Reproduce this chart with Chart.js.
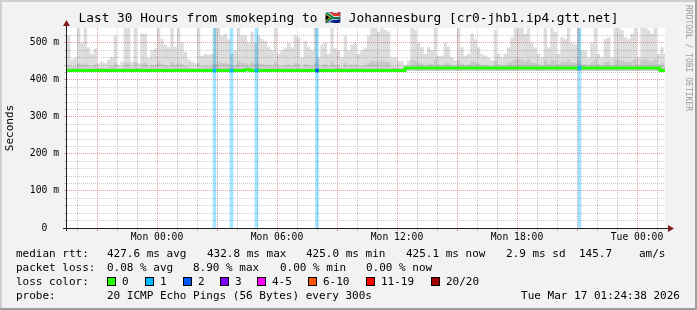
<!doctype html>
<html lang="en">
<head>
<meta charset="utf-8">
<title>Smokeping || Johannesburg</title>
<script src="https://cdn.jsdelivr.net/npm/chart.js"></script>
<style>
    html, body { margin: 0; padding: 0; background: #f2f2f2; }
    .wrap { position: relative; width: 697px; height: 310px; font-family: "DejaVu Sans Mono", monospace; color: #000; }
    canvas { position: absolute; left: 0; top: 0; }
    .title { position: absolute; left: 0; top: 10px; width: 697px; text-align: center; font-size: 12.8px; line-height: 16px; white-space: pre; }
    .t { position: absolute; font-size: 11px; line-height: 14px; white-space: pre; }
    .sw { position: absolute; width: 7px; height: 7px; border: 1px solid #000; }
    .credit { position: absolute; left: 683px; top: 5px; writing-mode: vertical-rl; font-size: 8px; line-height: 10px; color: #9a9a9a; white-space: pre; }
</style>
</head>
<body>
<div class="wrap">
    <canvas id="chart" width="697" height="310"></canvas>
    <div class="title">Last 30 Hours from smokeping to 🇿🇦 Johannesburg [cr0-jhb1.ip4.gtt.net]</div>
    <div class="credit">RRDTOOL / TOBI OETIKER</div>

    <!-- median rtt row -->
    <span class="t" style="left:16px; top:247px">median rtt:</span>
    <span class="t" style="left:107px; top:247px">427.6 ms avg</span>
    <span class="t" style="left:207px; top:247px">432.8 ms max</span>
    <span class="t" style="left:306px; top:247px">425.0 ms min</span>
    <span class="t" style="left:406px; top:247px">425.1 ms now</span>
    <span class="t" style="left:506px; top:247px">2.9 ms sd</span>
    <span class="t" style="left:579px; top:247px">145.7</span>
    <span class="t" style="left:639px; top:247px">am/s</span>

    <!-- packet loss row -->
    <span class="t" style="left:16px; top:261px">packet loss:</span>
    <span class="t" style="left:107px; top:261px">0.08 % avg</span>
    <span class="t" style="left:193px; top:261px">8.90 % max</span>
    <span class="t" style="left:280px; top:261px">0.00 % min</span>
    <span class="t" style="left:366px; top:261px">0.00 % now</span>

    <!-- loss color row, swatches added by script -->
    <span class="t" style="left:16px; top:275px">loss color:</span>
    <div id="lossRow"></div>

    <!-- probe row -->
    <span class="t" style="left:16px; top:289px">probe:</span>
    <span class="t" style="left:107px; top:289px">20 ICMP Echo Pings (56 Bytes) every 300s</span>
    <span class="t" style="right:17px; top:289px">Tue Mar 17 01:24:38 2026</span>
</div>

<script>
    // time axis in hours relative to Mon 00:00
    const startHour = -4.5;
    const endHour = 25.4;
    const stepHours = 1 / 6; // one smoke bar per 10 minutes

    // top of the smoke (highest ping), ms
    const smokeHigh = [
        520, 455, 460, 540, 500, 540, 488, 470, 485, 445, 450, 445, 455, 462, 520,
        440, 450, 540, 540, 450, 540, 445, 525, 525, 460, 480, 485, 540, 510, 495,
        488, 540, 490, 540, 500, 475, 455, 450, 445, 540, 465, 470, 468, 470, 540,
        540, 520, 525, 510, 470, 480, 540, 520, 520, 500, 530, 500, 520, 510, 505,
        490, 480, 540, 470, 480, 485, 500, 488, 520, 515, 461, 505, 490, 480, 540,
        461, 495, 500, 470, 540, 485, 480, 461, 520, 480, 495, 500, 470, 480, 485,
        520, 540, 540, 530, 540, 535, 530, 461, 461, 452, 450, 440, 452, 540, 535,
        500, 488, 470, 488, 480, 540, 465, 465, 500, 490, 461, 452, 540, 488, 465,
        470, 525, 510, 488, 470, 465, 461, 452, 535, 470, 461, 470, 488, 515, 540,
        540, 540, 525, 540, 500, 488, 470, 461, 540, 488, 540, 530, 470, 515, 510,
        540, 500, 495, 540, 480, 480, 461, 500, 540, 470, 461, 510, 515, 461, 540,
        540, 535, 515, 510, 525, 540, 461, 540, 540, 535, 525, 540, 470, 488, 470
    ];

    // darker inner smoke (middle pings), ms
    const smokeMid = [
        440, 434, 436, 445, 442, 444, 438, 436, 440, 432, 434, 431, 435, 437, 446,
        430, 433, 447, 445, 434, 448, 432, 444, 446, 436, 440, 441, 450, 443, 440,
        438, 449, 441, 447, 442, 437, 434, 433, 431, 446, 436, 438, 437, 439, 444,
        448, 445, 446, 442, 436, 440, 450, 446, 445, 441, 447, 442, 445, 443, 441,
        440, 438, 449, 436, 438, 440, 442, 439, 446, 444, 433, 443, 440, 438, 448,
        434, 441, 443, 437, 450, 440, 438, 434, 446, 438, 441, 442, 436, 438, 440,
        446, 452, 450, 448, 452, 449, 447, 436, 435, 433, 432, 430, 438, 455, 452,
        446, 444, 440, 444, 442, 455, 441, 440, 446, 445, 438, 437, 455, 444, 440,
        441, 450, 448, 444, 441, 440, 438, 437, 452, 441, 439, 441, 445, 449, 455,
        456, 455, 450, 455, 447, 445, 441, 439, 455, 444, 455, 452, 441, 449, 448,
        455, 447, 446, 453, 442, 442, 439, 447, 455, 441, 439, 448, 449, 439, 455,
        455, 452, 449, 448, 451, 456, 439, 455, 456, 452, 450, 455, 441, 445, 441
    ];
    const smokeBase = 424;

    // median rtt, held until the next change
    const medianTimes = [-4.5, 4.4, 4.65, 12.4, 25.15, 25.4];
    const medianValues = [425, 427, 425, 432, 425, 425];

    // packet loss events
    const lossTimes = [2.875, 3.725, 4.975, 8.0, 21.125];
    const lossCounts = [1, 1, 1, 2, 1];
    const lossMedian = [425, 425, 425, 425, 432];

    // axis labels
    const xTickHours = [0, 6, 12, 18, 24];
    const xTickLabels = ['Mon 00:00', 'Mon 06:00', 'Mon 12:00', 'Mon 18:00', 'Tue 00:00'];
    const yTickValues = [0, 100, 200, 300, 400, 500];
    const yTickLabels = ['0  ', '100 m', '200 m', '300 m', '400 m', '500 m'];

    // smokeping loss legend
    const lossLegend = ['0', '1', '2', '3', '4-5', '6-10', '11-19', '20/20'];
    const lossColors = ['#26ff00', '#00b8ff', '#0059ff', '#7e00ff', '#ff00ff', '#ff5500', '#ff0000', '#a00000'];
    const lossLegendX = [107, 145, 183, 220, 257, 308, 366, 431];
    const lossShade = 'rgba(0, 184, 255, 0.36)';

    const lossRow = document.getElementById('lossRow');
    lossLegend.forEach((name, i) => {
        const sw = document.createElement('div');
        sw.className = 'sw';
        sw.style.left = lossLegendX[i] + 'px';
        sw.style.top = '277px';
        sw.style.background = lossColors[i];
        lossRow.appendChild(sw);
        const lb = document.createElement('span');
        lb.className = 't';
        lb.style.left = (lossLegendX[i] + 15) + 'px';
        lb.style.top = '275px';
        lb.textContent = name;
        lossRow.appendChild(lb);
    });

    const mono = '"DejaVu Sans Mono", monospace';
    const minorGrid = 'rgba(143, 143, 143, 0.45)';
    const majorGrid = 'rgba(222, 79, 79, 0.55)';

    const gridHours = [];
    for (let h = -4; h <= 25; h++) gridHours.push(h);
    const gridMs = [];
    for (let v = 0; v <= 520; v += 20) gridMs.push(v);

    // rrdtool style background, frame and arrows
    const rrdFrame = {
        id: 'rrdFrame',
        beforeDraw(chart) {
            const c = chart.ctx, a = chart.chartArea;
            const w = chart.width, h = chart.height;
            c.save();
            c.fillStyle = '#f2f2f2';
            c.fillRect(0, 0, w, h);
            c.fillStyle = '#cfcfcf';
            c.fillRect(0, 0, w, 2);
            c.fillRect(0, 0, 2, h);
            c.fillStyle = '#9e9e9e';
            c.fillRect(0, h - 2, w, 2);
            c.fillRect(w - 2, 0, 2, h);
            c.fillStyle = '#ffffff';
            c.fillRect(a.left, a.top, a.right - a.left, a.bottom - a.top);
            c.restore();
        },
        afterDraw(chart) {
            const c = chart.ctx, a = chart.chartArea;
            c.save();
            c.strokeStyle = '#1f1f1f';
            c.lineWidth = 1;
            c.beginPath();
            c.moveTo(a.left - 4, a.bottom + 0.5);
            c.lineTo(a.right + 6, a.bottom + 0.5);
            c.moveTo(a.left - 0.5, a.bottom + 3);
            c.lineTo(a.left - 0.5, a.top - 3);
            c.stroke();
            c.fillStyle = '#7f1f1f';
            c.beginPath();
            c.moveTo(a.right + 3, a.bottom - 3);
            c.lineTo(a.right + 9, a.bottom + 0.5);
            c.lineTo(a.right + 3, a.bottom + 4);
            c.fill();
            c.beginPath();
            c.moveTo(a.left - 4, a.top - 2);
            c.lineTo(a.left - 0.5, a.top - 8);
            c.lineTo(a.left + 3, a.top - 2);
            c.fill();
            c.restore();
        }
    };

    new Chart(document.getElementById('chart').getContext('2d'), {
        type: 'bar',
        data: {
            datasets: [{
                type: 'bar',
                label: 'loss',
                xAxisID: 'x2',
                data: lossTimes.map(t => ({ x: t, y: [0, 540] })),
                backgroundColor: lossShade,
                barThickness: 3,
                grouped: false,
                order: 5
            }, {
                type: 'bar',
                label: 'smoke',
                data: smokeHigh.map((v, i) => ({ x: startHour + (i + 0.5) * stepHours, y: [smokeBase, v] })),
                backgroundColor: 'rgba(0, 0, 0, 0.135)',
                barPercentage: 1,
                categoryPercentage: 1,
                inflateAmount: 0,
                grouped: false,
                order: 4
            }, {
                type: 'bar',
                label: 'smoke core',
                data: smokeMid.map((v, i) => ({ x: startHour + (i + 0.5) * stepHours, y: [smokeBase, v] })),
                backgroundColor: 'rgba(0, 0, 0, 0.09)',
                barPercentage: 1,
                categoryPercentage: 1,
                inflateAmount: 0,
                grouped: false,
                order: 3
            }, {
                type: 'line',
                label: 'median rtt',
                data: medianTimes.map((t, i) => ({ x: t, y: medianValues[i] })),
                borderColor: lossColors[0],
                borderWidth: 3,
                stepped: 'before',
                pointRadius: 0,
                order: 2
            }, {
                type: 'bar',
                label: 'median loss',
                xAxisID: 'x2',
                data: lossTimes.map((t, i) => ({ x: t, y: [lossMedian[i] - 4, lossMedian[i] + 4] })),
                backgroundColor: lossCounts.map(n => lossColors[n]),
                barThickness: 3,
                grouped: false,
                order: 1
            }]
        },
        options: {
            responsive: false,
            animation: false,
            devicePixelRatio: 1,
            layout: { padding: { top: 28, right: 32, left: 0, bottom: 0 } },
            plugins: {
                legend: { display: false },
                tooltip: { enabled: false },
                title: { display: false }
            },
            scales: {
                x: {
                    type: 'linear',
                    min: startHour,
                    max: endHour,
                    offset: false,
                    afterBuildTicks: s => { s.ticks = gridHours.map(v => ({ value: v })); },
                    afterFit: s => { s.height = 82; },
                    ticks: {
                        autoSkip: false,
                        maxRotation: 0,
                        padding: 1,
                        color: '#000',
                        font: { family: mono, size: 9.7 },
                        callback: v => {
                            const k = xTickHours.indexOf(v);
                            return k < 0 ? '' : xTickLabels[k];
                        }
                    },
                    grid: {
                        offset: false,
                        color: c => (c.tick && c.tick.value % 3 === 0) ? majorGrid : minorGrid,
                        tickColor: c => (c.tick && c.tick.value % 3 === 0) ? majorGrid : minorGrid,
                        tickLength: 3
                    },
                    border: { display: false, dash: [1, 1] }
                },
                x2: {
                    type: 'linear',
                    min: startHour,
                    max: endHour,
                    offset: false,
                    display: false
                },
                y: {
                    min: 0,
                    max: 540,
                    afterBuildTicks: s => { s.ticks = gridMs.map(v => ({ value: v })); },
                    afterFit: s => { s.width = 67; },
                    title: {
                        display: true,
                        text: 'Seconds',
                        color: '#000',
                        font: { family: mono, size: 11 },
                        padding: { top: 4, bottom: 0 }
                    },
                    ticks: {
                        autoSkip: false,
                        padding: 5,
                        color: '#000',
                        font: { family: mono, size: 9.7 },
                        callback: v => {
                            const k = yTickValues.indexOf(v);
                            return k < 0 ? '' : yTickLabels[k];
                        }
                    },
                    grid: {
                        color: c => (c.tick && c.tick.value % 100 === 0) ? majorGrid : minorGrid,
                        tickColor: c => (c.tick && c.tick.value % 100 === 0) ? majorGrid : minorGrid,
                        tickLength: 3
                    },
                    border: { display: false, dash: [1, 1] }
                }
            }
        },
        plugins: [rrdFrame]
    });
</script>
</body>
</html>
